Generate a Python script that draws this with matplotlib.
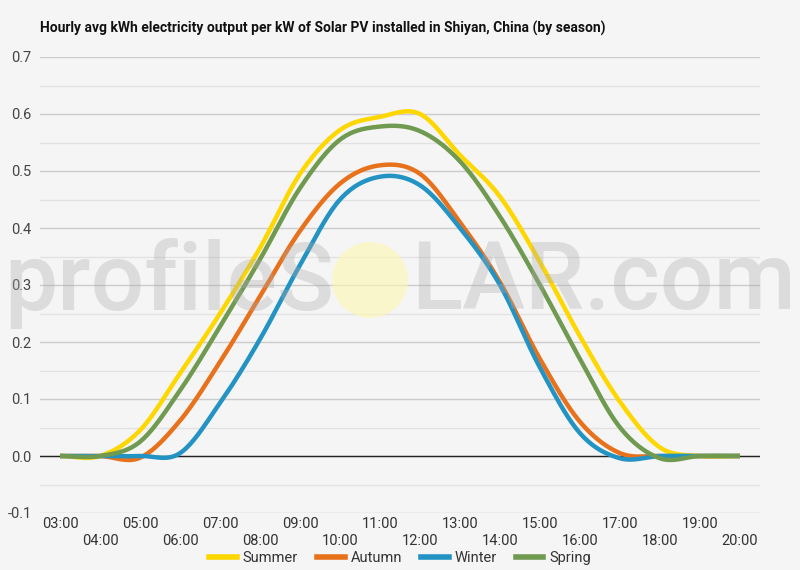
import numpy as np
import matplotlib
matplotlib.use('Agg')
import matplotlib.pyplot as plt
from matplotlib.lines import Line2D
from matplotlib.patches import Ellipse

hours = list(range(3, 21))
hour_labels = ['%02d:00' % h for h in hours]

summer = [0, 0, 0.045, 0.145, 0.25, 0.365, 0.495, 0.572, 0.595, 0.60, 0.528, 0.455, 0.34, 0.21, 0.095, 0.015, 0, 0]
autumn = [0, 0, -0.003, 0.062, 0.165, 0.28, 0.395, 0.478, 0.51, 0.495, 0.41, 0.305, 0.17, 0.06, 0.005, 0, 0, 0]
winter = [0, 0, 0, 0.005, 0.093, 0.205, 0.335, 0.45, 0.49, 0.475, 0.40, 0.30, 0.155, 0.04, -0.004, 0, 0, 0]
spring = [0, 0, 0.025, 0.115, 0.227, 0.345, 0.47, 0.555, 0.578, 0.57, 0.517, 0.42, 0.30, 0.17, 0.05, -0.004, 0, 0]

series_names = ['Summer', 'Autumn', 'Winter', 'Spring']
series_vals = [summer, autumn, winter, spring]
colors = ['#ffd700', '#e8711c', '#2393c4', '#6f9a50']

title = 'Hourly avg kWh electricity output per kW of Solar PV installed in Shiyan, China (by season)'

plt.rcParams['font.family'] = ['Roboto', 'DejaVu Sans']


def smooth(x, y, n=20):
    # catmull-rom style curve through the hourly points
    x = np.asarray(x, float)
    y = np.asarray(y, float)
    m = np.zeros_like(y)
    m[1:-1] = (y[2:] - y[:-2]) / (x[2:] - x[:-2])
    m[0] = (y[1] - y[0]) / (x[1] - x[0])
    m[-1] = (y[-1] - y[-2]) / (x[-1] - x[-2])
    xs, ys = [], []
    for i in range(len(x) - 1):
        h = x[i + 1] - x[i]
        t = np.linspace(0, 1, n, endpoint=False)
        h00 = 2*t**3 - 3*t**2 + 1
        h10 = t**3 - 2*t**2 + t
        h01 = -2*t**3 + 3*t**2
        h11 = t**3 - t**2
        xs.append(x[i] + t*h)
        ys.append(h00*y[i] + h10*h*m[i] + h01*y[i+1] + h11*h*m[i+1])
    xs.append([x[-1]])
    ys.append([y[-1]])
    return np.concatenate(xs), np.concatenate(ys)


bg = '#f5f5f5'
fig = plt.figure(figsize=(8, 5.7), dpi=100, facecolor=bg)
ax = fig.add_axes([0.05, 0.1, 0.9, 0.8], facecolor=bg)

ax.set_xlim(2.5, 20.5)
ax.set_ylim(-0.1, 0.7)
ax.set_yticks(np.arange(-0.1, 0.71, 0.1))
ax.set_yticks(np.arange(-0.05, 0.7, 0.1), minor=True)
ax.set_yticklabels(['%.1f' % v for v in np.arange(-0.1, 0.71, 0.1)])
ax.grid(axis='y', which='major', color='#cccccc', lw=1)
ax.grid(axis='y', which='minor', color='#e2e2e2', lw=1)
ax.set_axisbelow(True)
ax.axhline(0, color='#222222', lw=1, zorder=1.5)

ax.set_xticks(hours[::2])
ax.set_xticklabels(hour_labels[::2])
ax.set_xticks(hours[1::2], minor=True)
ax.set_xticklabels(hour_labels[1::2], minor=True)
ax.tick_params(axis='x', which='major', length=0, pad=3, labelsize=10.5, labelcolor='#333333')
ax.tick_params(axis='x', which='minor', length=0, pad=15, labelsize=10.5, labelcolor='#333333')
ax.tick_params(axis='y', which='both', length=0, pad=6, labelsize=10.5, labelcolor='#444444')
for s in ax.spines.values():
    s.set_visible(False)

for name, vals, c in zip(series_names, series_vals, colors):
    sx, sy = smooth(hours, vals)
    ax.plot(sx, sy, color=c, lw=3.2, solid_capstyle='butt', label=name, zorder=3)

handles = [Line2D([0], [0], color=c, lw=4) for c in colors]
fig.legend(handles, series_names, loc='center', bbox_to_anchor=(0.5, 1 - 558/570), ncol=4,
           frameon=False, fontsize=10.5, handlelength=1.9, handletextpad=0.4, columnspacing=1.3,
           labelcolor='#333333', borderpad=0)

fig.text(40/800, 1 - 28/570, title, fontsize=10, fontweight='bold', color='#111111', va='center', ha='left')

# watermark
fig.text(4/800, 1 - 283/570, 'profileS', fontsize=68, fontweight='medium', color='#aaaaaa', alpha=0.33,
         ha='left', va='center', zorder=10)
fig.text(796/800, 1 - 283/570, 'LAR.com', fontsize=68, fontweight='medium', color='#aaaaaa', alpha=0.33,
         ha='right', va='center', zorder=10)
fig.patches.append(Ellipse((370/800, 1 - 280/570), 76/800, 76/570, transform=fig.transFigure,
                           facecolor='#fff7b0', alpha=0.6, edgecolor='none', zorder=10))

fig.savefig('out.png', dpi=100, facecolor=bg)
